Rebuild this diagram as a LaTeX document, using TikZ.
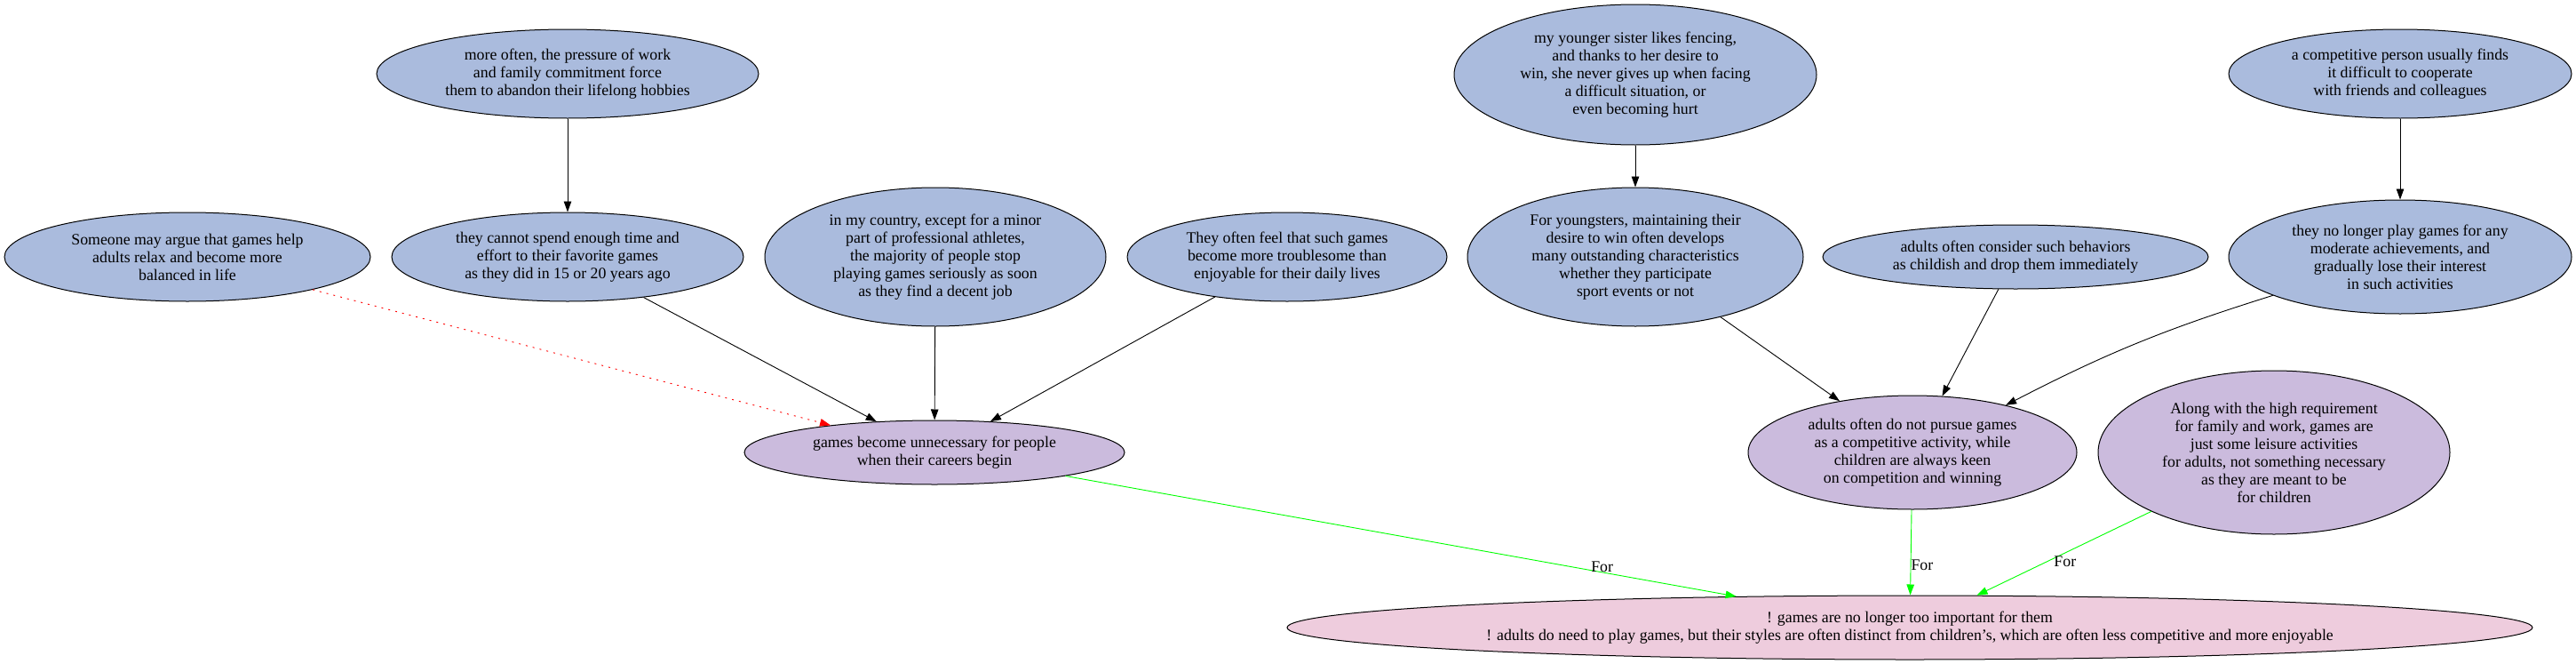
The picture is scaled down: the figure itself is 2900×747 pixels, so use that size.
\documentclass[tikz,border=0pt]{standalone}
\usepackage{fontspec}
\setmainfont{Liberation Serif}
\usetikzlibrary{shapes.geometric,arrows.meta}

\definecolor{argblue}{RGB}{170,187,221}
\definecolor{claimpurple}{RGB}{203,187,221}
\definecolor{mainpink}{RGB}{238,204,221}

\tikzset{
    arg/.style={ellipse, draw, line width=1pt, fill=argblue, align=center, inner sep=0pt},
    claim/.style={arg, fill=claimpurple},
    mainclaim/.style={arg, fill=mainpink},
    sz/.style 2 args={minimum width=#1pt, minimum height=#2pt},
    support/.style={line width=0.9pt, -{Triangle[length=12pt,width=8.5pt]}},
    attack/.style={support, red, dash pattern=on 2pt off 6pt},
    infer/.style={support, green},
    forlabel/.style={text=black, inner sep=0pt}
}

\begin{document}
\begin{tikzpicture}[x=1pt, y=-1pt, font=\fontsize{17.8}{20}\selectfont]
                \useasboundingbox (0,0) rectangle (2900,747);
                % left branch
                \node [arg, sz={430}{100}] (often) at (639,83) {more often, the pressure of work\\and family commitment force\\them to abandon their lifelong hobbies};
                \node [arg, sz={412}{100}] (argue) at (211,289) {Someone may argue that games help\\adults relax and become more\\balanced in life};
                \node [arg, sz={396}{100}] (cannot) at (639,289) {they cannot spend enough time and\\effort to their favorite games\\as they did in 15 or 20 years ago};
                \node [arg, sz={384}{156}] (country) at (1053,289) {in my country, except for a minor\\part of professional athletes,\\the majority of people stop\\playing games seriously as soon\\as they find a decent job};
                \node [arg, sz={360}{100}] (trouble) at (1449,289) {They often feel that such games\\become more troublesome than\\enjoyable for their daily lives};
                \node [claim, sz={428}{72}] (careers) at (1052,509) {games become unnecessary for people\\when their careers begin};
                % right branch
                \node [arg, sz={408}{158}] (sister) at (1841,84) {my younger sister likes fencing,\\and thanks to her desire to\\win, she never gives up when facing\\a difficult situation, or\\even becoming hurt};
                \node [arg, sz={378}{156}] (youngsters) at (1841,289) {For youngsters, maintaining their\\desire to win often develops\\many outstanding characteristics\\whether they participate\\sport events or not};
                \node [arg, sz={434}{72}] (childish) at (2269,289) {adults often consider such behaviors\\as childish and drop them immediately};
                \node [arg, sz={386}{100}] (cooperate) at (2702,83) {a competitive person usually finds\\it difficult to cooperate\\with friends and colleagues};
                \node [arg, sz={386}{128}] (achieve) at (2702,289) {they no longer play games for any\\moderate achievements, and\\gradually lose their interest\\in such activities};
                \node [claim, sz={370}{128}] (pursue) at (2153,509) {adults often do not pursue games\\as a competitive activity, while\\children are always keen\\on competition and winning};
                \node [claim, sz={396}{184}] (leisure) at (2560,509) {Along with the high requirement\\for family and work, games are\\just some leisure activities\\for adults, not something necessary\\as they are meant to be\\for children};
                \node [mainclaim, sz={1402}{72}] (thesis) at (2150,706) {! games are no longer too important for them\\! adults do need to play games, but their styles are often distinct from children's, which are often less competitive and more enjoyable};
                % edges
                \draw [support] (often) -- (cannot);
                \draw [support] (cannot) -- (careers);
                \draw [support] (country) -- (careers);
                \draw [support] (trouble) -- (careers);
                \draw [attack] (argue) -- (careers);
                \draw [support] (sister) -- (youngsters);
                \draw [support] (cooperate) -- (achieve);
                \draw [support] (youngsters) -- (pursue);
                \draw [support] (childish) -- (pursue);
                \draw [support] (achieve) to [bend right=5] (pursue);
                \draw [infer] (careers) -- node [forlabel, pos=0.8, above] {For} (thesis);
                \draw [infer] (pursue) -- node [forlabel, pos=0.65, right] {For} (thesis);
                \draw [infer] (leisure) -- node [forlabel, pos=0.6, right, inner sep=8pt] {For} (thesis);
            \end{tikzpicture}
\end{document}
